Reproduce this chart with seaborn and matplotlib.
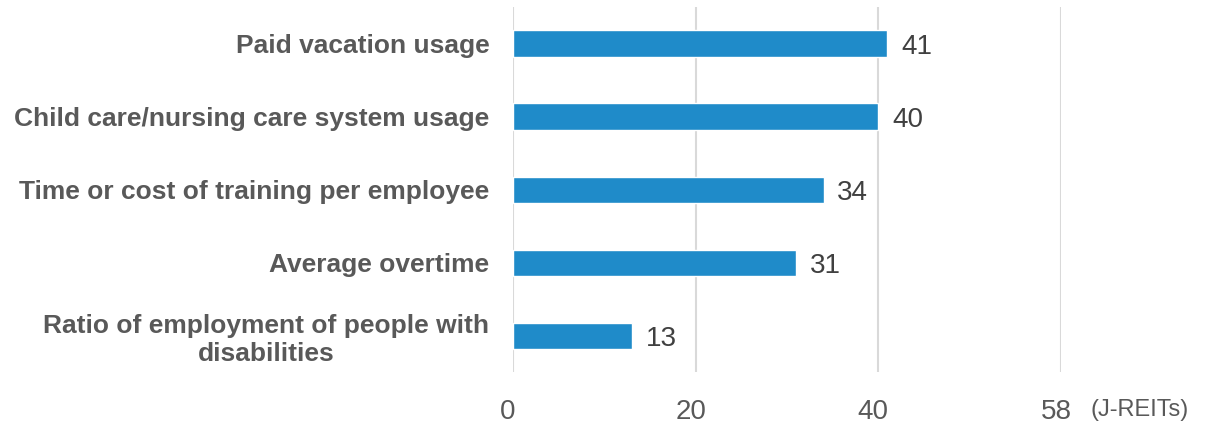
import matplotlib
matplotlib.use("Agg")
import matplotlib.pyplot as plt
import matplotlib.transforms as mtransforms
import seaborn as sns
import pandas as pd

categories = [
    "Paid vacation usage",
    "Child care/nursing care system usage",
    "Time or cost of training per employee",
    "Average overtime",
    "Ratio of employment of people with\ndisabilities",
]
counts = [41, 40, 34, 31, 13]
tick_values = [0, 20, 40, 60]
tick_labels = ["0", "20", "40", "58"]
unit_label = "(J-REITs)"

sns.set_theme(style="white")
plt.rcParams["font.family"] = ["Liberation Sans", "DejaVu Sans"]

df = pd.DataFrame({"item": categories, "count": counts})

fig = plt.figure(figsize=(12.09, 4.24), dpi=100)
ax = fig.add_axes([0.4243, 0.1215, 0.4533, 0.8620])

sns.barplot(data=df, x="count", y="item", color="#1F8BC9", width=0.36,
            saturation=1, ax=ax, zorder=3)

ax.set_xlim(0, 60)
ax.set_ylim(4.5, -0.5)
ax.set_xticks(tick_values)
ax.set_xticklabels(tick_labels)
ax.xaxis.grid(True, color="#D9D9D9", linewidth=1.5, zorder=0)
ax.set_xlabel("")
ax.set_ylabel("")
for s in ax.spines.values():
    s.set_visible(False)

ax.tick_params(axis="x", length=0, pad=19, labelsize=20, labelcolor="#595959")
ax.tick_params(axis="y", length=0, pad=17, labelsize=19, labelcolor="#595959")
shift = mtransforms.ScaledTranslation(-5 / 100, 0, fig.dpi_scale_trans)
for lbl in ax.get_xticklabels():
    lbl.set_transform(lbl.get_transform() + shift)
for lbl in ax.get_yticklabels():
    lbl.set_fontweight("bold")
    lbl.set_multialignment("center")

for bar, v in zip(ax.patches, counts):
    ax.text(bar.get_width() + 1.5, bar.get_y() + bar.get_height() / 2, str(v),
            ha="left", va="center_baseline", fontsize=20, color="#404040")

ax.annotate(unit_label, xy=(1.0, 0), xycoords="axes fraction",
            xytext=(21, -19), textcoords="offset points",
            ha="left", va="top", fontsize=17, color="#595959")

fig.savefig("out.png", dpi=100)
